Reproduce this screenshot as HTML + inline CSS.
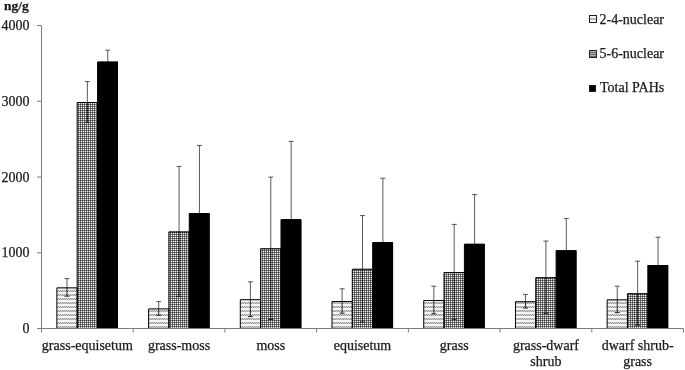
<!DOCTYPE html>
<html><head><meta charset="utf-8"><style>
html,body{margin:0;padding:0;background:#fff;}
#w{will-change:transform;width:685px;height:370px;overflow:hidden;}
svg{display:block;font-family:"Liberation Serif",serif;font-size:14px;fill:#1a1a1a;}
text{stroke:#1a1a1a;stroke-width:0.25px;}
</style></head><body><div id="w">
<svg width="685" height="370" viewBox="0 0 685 370">
<defs>
<pattern id="wave" width="2" height="4" patternUnits="userSpaceOnUse">
<rect width="2" height="4" fill="#fbfbfb"/>
<rect x="0" y="0" width="1" height="1" fill="#ececec"/>
<rect x="1" y="1" width="1" height="1" fill="#f2f2f2"/>
<rect x="0" y="2" width="1" height="1" fill="#999"/>
<rect x="1" y="2" width="1" height="1" fill="#d2d2d2"/>
<rect x="0" y="3" width="1" height="1" fill="#d2d2d2"/>
<rect x="1" y="3" width="1" height="1" fill="#999"/>
</pattern>
<pattern id="grid" width="2" height="2" patternUnits="userSpaceOnUse">
<rect width="2" height="2" fill="#7d7d7d"/>
<rect x="0" y="0" width="1" height="1" fill="#3a3a3a"/>
<rect x="1" y="1" width="1" height="1" fill="#f0f0f0"/>
</pattern>
<pattern id="gridL" width="2" height="2" patternUnits="userSpaceOnUse">
<rect width="2" height="2" fill="#b0b0b0"/>
<rect x="0" y="0" width="2" height="1" fill="#6c6c6c"/>
</pattern>
</defs>
<rect width="685" height="370" fill="#fff"/>
<rect x="56.79" y="287.40" width="20.38" height="41.10" fill="url(#wave)"/><rect x="77.17" y="102.00" width="20.38" height="226.50" fill="url(#grid)"/><rect x="97.55" y="61.60" width="20.38" height="266.90" fill="#000"/><rect x="148.50" y="308.40" width="20.38" height="20.10" fill="url(#wave)"/><rect x="168.88" y="231.40" width="20.38" height="97.10" fill="url(#grid)"/><rect x="189.26" y="213.00" width="20.38" height="115.50" fill="#000"/><rect x="240.21" y="299.20" width="20.38" height="29.30" fill="url(#wave)"/><rect x="260.60" y="248.30" width="20.38" height="80.20" fill="url(#grid)"/><rect x="280.98" y="219.20" width="20.38" height="109.30" fill="#000"/><rect x="331.93" y="301.00" width="20.38" height="27.50" fill="url(#wave)"/><rect x="352.31" y="268.80" width="20.38" height="59.70" fill="url(#grid)"/><rect x="372.69" y="242.00" width="20.38" height="86.50" fill="#000"/><rect x="423.64" y="300.00" width="20.38" height="28.50" fill="url(#wave)"/><rect x="444.02" y="272.00" width="20.38" height="56.50" fill="url(#grid)"/><rect x="464.40" y="243.80" width="20.38" height="84.70" fill="#000"/><rect x="515.36" y="301.20" width="20.38" height="27.30" fill="url(#wave)"/><rect x="535.74" y="277.20" width="20.38" height="51.30" fill="url(#grid)"/><rect x="556.12" y="250.20" width="20.38" height="78.30" fill="#000"/><rect x="607.07" y="299.40" width="20.38" height="29.10" fill="url(#wave)"/><rect x="627.45" y="293.20" width="20.38" height="35.30" fill="url(#grid)"/><rect x="647.83" y="265.00" width="20.38" height="63.50" fill="#000"/>
<path d="M56.89 328.5V287.90H77.17V328.5M77.17 328.5V102.50H97.55V328.5M97.55 328.5V62.10H117.43V328.5M148.60 328.5V308.90H168.88V328.5M168.88 328.5V231.90H189.26V328.5M189.26 328.5V213.50H209.14V328.5M240.31 328.5V299.70H260.60V328.5M260.60 328.5V248.80H280.98V328.5M280.98 328.5V219.70H300.86V328.5M332.03 328.5V301.50H352.31V328.5M352.31 328.5V269.30H372.69V328.5M372.69 328.5V242.50H392.57V328.5M423.74 328.5V300.50H444.02V328.5M444.02 328.5V272.50H464.40V328.5M464.40 328.5V244.30H484.29V328.5M515.46 328.5V301.70H535.74V328.5M535.74 328.5V277.70H556.12V328.5M556.12 328.5V250.70H576.00V328.5M607.17 328.5V299.90H627.45V328.5M627.45 328.5V293.70H647.83V328.5M647.83 328.5V265.50H667.71V328.5" fill="none" stroke="#000" stroke-width="1"/>
<g fill="none" stroke="#000" stroke-width="0.65"><path d="M66.98 278.60V287.40M64.48 278.60H69.48"/><path d="M87.36 81.60V102.00M84.86 81.60H89.86"/><path d="M107.74 50.20V61.60M105.24 50.20H110.24"/><path d="M158.69 301.60V308.40M156.19 301.60H161.19"/><path d="M179.07 166.40V231.40M176.57 166.40H181.57"/><path d="M199.45 145.40V213.00M196.95 145.40H201.95"/><path d="M250.40 281.80V299.20M247.90 281.80H252.90"/><path d="M270.79 177.10V248.30M268.29 177.10H273.29"/><path d="M291.17 141.40V219.20M288.67 141.40H293.67"/><path d="M342.12 288.80V301.00M339.62 288.80H344.62"/><path d="M362.50 215.60V268.80M360.00 215.60H365.00"/><path d="M382.88 178.20V242.00M380.38 178.20H385.38"/><path d="M433.83 286.20V300.00M431.33 286.20H436.33"/><path d="M454.21 224.40V272.00M451.71 224.40H456.71"/><path d="M474.60 194.60V243.80M472.10 194.60H477.10"/><path d="M525.55 294.40V301.20M523.05 294.40H528.05"/><path d="M545.93 241.00V277.20M543.43 241.00H548.43"/><path d="M566.31 218.40V250.20M563.81 218.40H568.81"/><path d="M617.26 286.20V299.40M614.76 286.20H619.76"/><path d="M637.64 261.20V293.20M635.14 261.20H640.14"/><path d="M658.02 237.20V265.00M655.52 237.20H660.52"/></g>
<g fill="none" stroke="#111" stroke-width="0.9"><path d="M66.98 287.40V296.20M64.48 296.20H69.48"/><path d="M87.36 102.00V122.40M84.86 122.40H89.86"/><path d="M158.69 308.40V315.20M156.19 315.20H161.19"/><path d="M179.07 231.40V296.40M176.57 296.40H181.57"/><path d="M250.40 299.20V316.60M247.90 316.60H252.90"/><path d="M270.79 248.30V319.50M268.29 319.50H273.29"/><path d="M342.12 301.00V313.20M339.62 313.20H344.62"/><path d="M362.50 268.80V322.00M360.00 322.00H365.00"/><path d="M433.83 300.00V313.80M431.33 313.80H436.33"/><path d="M454.21 272.00V319.60M451.71 319.60H456.71"/><path d="M525.55 301.20V308.00M523.05 308.00H528.05"/><path d="M545.93 277.20V313.40M543.43 313.40H548.43"/><path d="M617.26 299.40V312.60M614.76 312.60H619.76"/><path d="M637.64 293.20V325.20M635.14 325.20H640.14"/></g>
<g fill="none" stroke="#7c7c7c" stroke-width="1"><path d="M41.5 25.5V332M37 328.5H683.5"/><path d="M37 328.50H41.5M37 252.75H41.5M37 177.00H41.5M37 101.25H41.5M37 25.50H41.5M41.50 328.5V332.5M133.21 328.5V332.5M224.93 328.5V332.5M316.64 328.5V332.5M408.36 328.5V332.5M500.07 328.5V332.5M591.79 328.5V332.5M683.50 328.5V332.5"/></g>
<rect x="589.5" y="15.50" width="7" height="7" fill="url(#wave)" stroke="#222" stroke-width="1"/><text x="599.5" y="24.20">2-4-nuclear</text><rect x="589.5" y="50.50" width="7" height="7" fill="url(#gridL)" stroke="#222" stroke-width="1"/><text x="599.5" y="58.30">5-6-nuclear</text><rect x="589.5" y="85.50" width="6" height="6" fill="#000" stroke="#222" stroke-width="1"/><text x="600" y="92.20">Total PAHs</text>
<text x="4" y="10.1" font-weight="bold" font-size="13.5">ng/g</text>
<text x="29.5" y="333.10" text-anchor="end">0</text><text x="29.5" y="257.35" text-anchor="end">1000</text><text x="29.5" y="181.60" text-anchor="end">2000</text><text x="29.5" y="105.85" text-anchor="end">3000</text><text x="29.5" y="30.10" text-anchor="end">4000</text><text x="87.36" y="349.70" text-anchor="middle">grass-equisetum</text><text x="179.07" y="349.70" text-anchor="middle">grass-moss</text><text x="270.79" y="349.70" text-anchor="middle">moss</text><text x="362.50" y="349.70" text-anchor="middle">equisetum</text><text x="454.21" y="349.70" text-anchor="middle">grass</text><text x="545.93" y="350.20" text-anchor="middle">grass-dwarf</text><text x="545.93" y="366.00" text-anchor="middle">shrub</text><text x="637.64" y="350.20" text-anchor="middle">dwarf shrub-</text><text x="637.64" y="366.00" text-anchor="middle">grass</text>
</svg></div>
</body></html>
